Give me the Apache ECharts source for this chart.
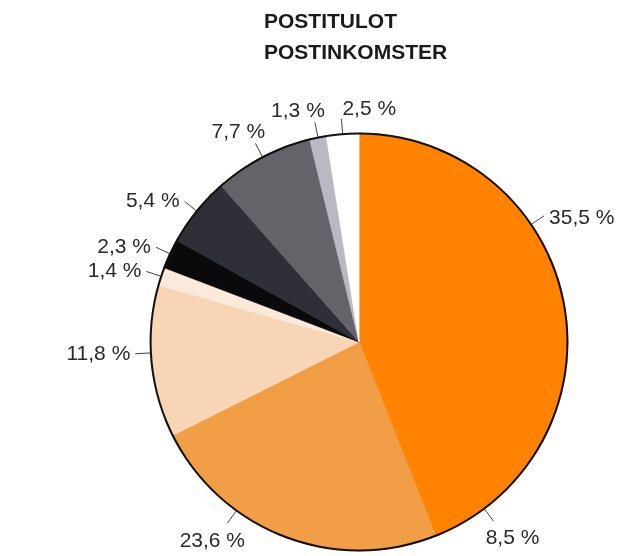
<!DOCTYPE html>
<html>
<head>
<meta charset="utf-8">
<script src="https://cdn.jsdelivr.net/npm/echarts@6/dist/echarts.min.js"></script>
<style>
html,body{margin:0;padding:0;background:#fff;}
#c{width:644px;height:556px;}
</style>
</head>
<body>
<div id="c"></div>
<script>
var titleLines = ['POSTITULOT', 'POSTINKOMSTER'];
var labels = ['35,5 %', '8,5 %', '23,6 %', '11,8 %', '1,4 %', '2,3 %', '5,4 %', '7,7 %', '1,3 %', '2,5 %'];
var values = [35.5, 8.5, 23.6, 11.8, 1.4, 2.3, 5.4, 7.7, 1.3, 2.5];
var colors = ['#FF8300', '#FF8300', '#F19E46', '#F7D5B5', '#FBEADC', '#0A0A0C', '#2F2F37', '#636369', '#B9B9C3', '#FFFFFF'];

var chart = echarts.init(document.getElementById('c'), null, {renderer: 'canvas'});
var CX = 359, CY = 342, R = 209, LEN = 15;

// leader-line anchor angle (degrees clockwise from top) where the reference moves it off the slice middle
var anchorOverride = {0: 55.7, 2: 216, 3: 267};

var total = values.reduce(function (a, b) { return a + b; }, 0);
var midAngles = [];
(function () {
  var acc = 0;
  values.forEach(function (v) { midAngles.push((acc + v / 2) / total * 360); acc += v; });
})();

var data = values.map(function (v, i) {
  return {value: v, name: labels[i], itemStyle: {color: colors[i], borderColor: colors[i], borderWidth: 0.8}};
});

chart.setOption({
  animation: false,
  title: {
    text: titleLines.join('\n'),
    left: 264, top: 7, padding: 0,
    textStyle: {fontFamily: 'Liberation Sans, Arial, sans-serif', fontSize: 21, fontWeight: 'bold', color: '#1a1a1a', lineHeight: 31}
  },
  series: [{
    type: 'pie',
    center: [CX, CY],
    radius: [0, R],
    startAngle: 90,
    clockwise: true,
    avoidLabelOverlap: false,
    silent: true,
    data: data,
    label: {
      show: true,
      formatter: '{b}',
      fontFamily: 'Liberation Sans, Arial, sans-serif',
      fontSize: 21,
      color: '#2a2a2a'
    },
    labelLine: {show: true, length: LEN, length2: 0, smooth: false, lineStyle: {color: '#444', width: 1}},
    labelLayout: function (p) {
      var i = p.dataIndex;
      var a = (anchorOverride[i] != null ? anchorOverride[i] : midAngles[i]) * Math.PI / 180;
      var s = Math.sin(a), c = Math.cos(a);
      var p0 = [CX + R * s, CY - R * c];
      var p1 = [CX + (R + LEN) * s, CY - (R + LEN) * c];
      var ex = p1[0], ey = p1[1];
      var out = {labelLinePoints: [p0, p1, p1]};
      var ratio = Math.abs(c) / Math.max(Math.abs(s), 0.001);
      if (ratio > 1.2) {
        if (c < 0) {
          out.x = ex + (s > 0 ? 19 : -15); out.y = ey + 7; out.align = 'center'; out.verticalAlign = 'top';
        } else if (ratio > 8) {
          out.x = ex + 1; out.y = ey + 1; out.align = 'left'; out.verticalAlign = 'bottom';
        } else {
          out.x = ex + (s > 0 ? 16 : -17); out.y = ey - 1; out.align = 'center'; out.verticalAlign = 'bottom';
        }
      } else if (s > 0) {
        out.x = ex + 5; out.y = ey + 2; out.align = 'left'; out.verticalAlign = 'middle';
      } else {
        out.x = ex - 5; out.y = ey; out.align = 'right'; out.verticalAlign = 'middle';
      }
      return out;
    }
  }, {
    type: 'pie',
    center: [CX, CY],
    radius: [R - 1.6, R + 0.4],
    silent: true,
    label: {show: false},
    labelLine: {show: false},
    itemStyle: {color: '#111', borderWidth: 0},
    data: [{value: 1, name: 'outline'}]
  }]
});
</script>
</body>
</html>
